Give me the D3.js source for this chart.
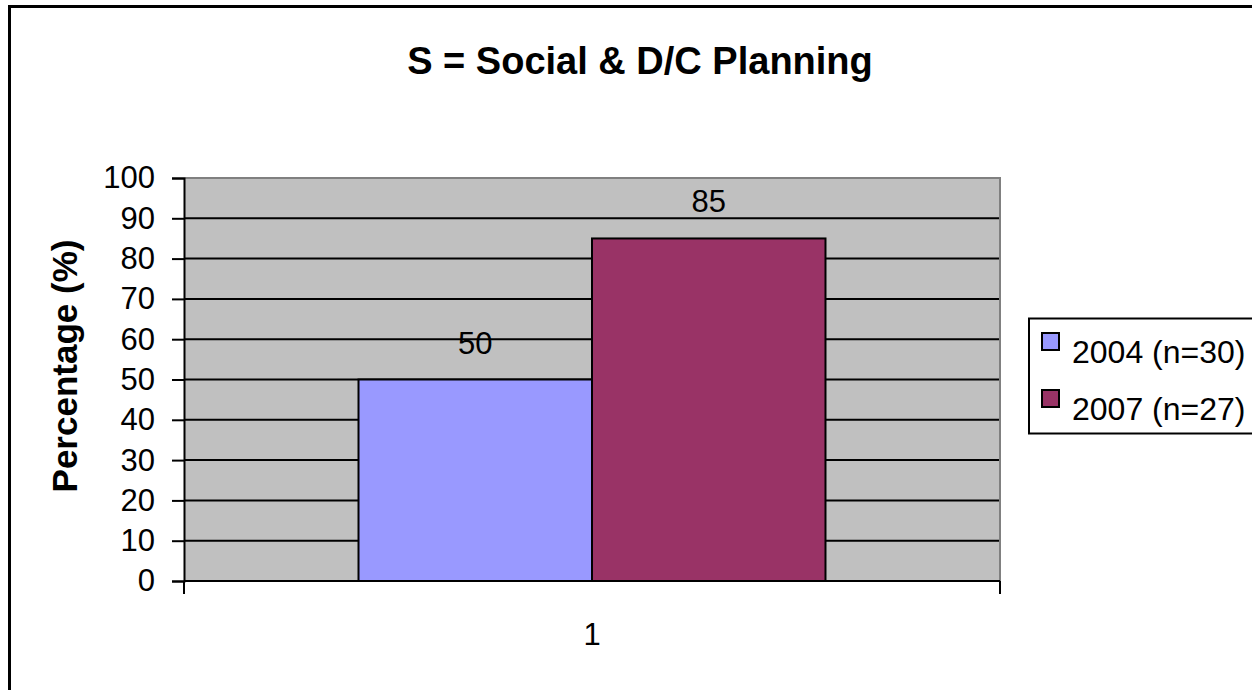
<!DOCTYPE html>
<html>
<head>
<meta charset="utf-8">
<script src="https://cdn.jsdelivr.net/npm/d3@7"></script>
<style>
  html, body { margin: 0; padding: 0; background: #fff; }
  svg { display: block; font-family: "Liberation Sans", Arial, sans-serif; }
</style>
</head>
<body>
<svg id="chart" width="1252" height="690"></svg>
<script>
// Chart data
const title = "S = Social & D/C Planning";
const categories = ["1"];
const seriesNames = ["2004 (n=30)", "2007 (n=27)"];
const seriesValues = [[50], [85]];
const seriesColors = ["#9999FF", "#993366"];
const yTicks = [0, 10, 20, 30, 40, 50, 60, 70, 80, 90, 100];
const yLabel = "Percentage (%)";

const svg = d3.select("#chart");

// Outer chart frame (runs past the right and bottom edges)
svg.append("rect")
  .attr("x", 9.5).attr("y", 6.5)
  .attr("width", 1300).attr("height", 800)
  .attr("fill", "#fff").attr("stroke", "#000").attr("stroke-width", 3);

const plot = { left: 184, right: 1000, top: 178, bottom: 581 };

const y = d3.scaleLinear().domain([0, 100]).range([plot.bottom, plot.top]);
const x0 = d3.scaleBand().domain(categories).range([plot.left, plot.right])
  .paddingInner(0).paddingOuter(0.3737);
const x1 = d3.scaleBand().domain(seriesNames).range([0, x0.bandwidth()]).padding(0);

// Plot background
svg.append("rect")
  .attr("x", plot.left).attr("y", plot.top)
  .attr("width", plot.right - plot.left).attr("height", plot.bottom - plot.top)
  .attr("fill", "#C0C0C0");

// Gridlines
svg.append("g").selectAll("line")
  .data(yTicks.filter(d => d > 0 && d < 100))
  .join("line")
  .attr("x1", plot.left).attr("x2", plot.right)
  .attr("y1", d => y(d)).attr("y2", d => y(d))
  .attr("stroke", "#000").attr("stroke-width", 2);

// Plot border top/right (gray)
svg.append("path")
  .attr("d", `M${plot.left},${plot.top}H${plot.right}V${plot.bottom}`)
  .attr("fill", "none").attr("stroke", "#808080").attr("stroke-width", 2);

// Bars
const groups = svg.append("g").selectAll("g")
  .data(categories)
  .join("g")
  .attr("transform", d => `translate(${x0(d)},0)`);

groups.selectAll("rect")
  .data((d, i) => seriesNames.map((s, j) => ({ s, j, v: seriesValues[j][i] })))
  .join("rect")
  .attr("x", d => x1(d.s))
  .attr("y", d => y(d.v))
  .attr("width", x1.bandwidth())
  .attr("height", d => y(0) - y(d.v))
  .attr("fill", d => seriesColors[d.j])
  .attr("stroke", "#000").attr("stroke-width", 2);

// Value labels
groups.selectAll("text")
  .data((d, i) => seriesNames.map((s, j) => ({ s, j, v: seriesValues[j][i] })))
  .join("text")
  .attr("x", d => x1(d.s) + x1.bandwidth() / 2)
  .attr("y", d => y(d.v) - 26)
  .attr("text-anchor", "middle")
  .attr("font-size", 31)
  .text(d => d.v);

// Y axis
const yAxis = d3.axisLeft(y).tickValues(yTicks).tickSize(12).tickPadding(17);
const ya = svg.append("g").attr("transform", `translate(${plot.left},0)`).call(yAxis);
ya.select(".domain").attr("stroke", "#000").attr("stroke-width", 2);
ya.selectAll(".tick line").attr("stroke", "#000").attr("stroke-width", 2);
ya.selectAll(".tick text").attr("font-size", 31).attr("fill", "#000")
  .attr("font-family", "'Liberation Sans', Arial, sans-serif");

// X axis with boundary ticks
const xa = svg.append("g").attr("transform", `translate(0,${plot.bottom})`);
xa.append("line").attr("x1", plot.left).attr("x2", plot.right)
  .attr("stroke", "#000").attr("stroke-width", 2);
xa.selectAll(".edge").data([plot.left, plot.right]).join("line")
  .attr("class", "edge")
  .attr("x1", d => d).attr("x2", d => d).attr("y1", 0).attr("y2", 13)
  .attr("stroke", "#000").attr("stroke-width", 2);
xa.selectAll(".cat").data(categories).join("text")
  .attr("class", "cat")
  .attr("x", d => x0(d) + x0.bandwidth() / 2)
  .attr("y", 64)
  .attr("text-anchor", "middle")
  .attr("font-size", 31)
  .text(d => d);

// Title
svg.append("text")
  .attr("x", 640).attr("y", 74)
  .attr("text-anchor", "middle")
  .attr("font-size", 38).attr("font-weight", "bold")
  .text(title);

// Y label
svg.append("text")
  .attr("transform", `translate(77,366) rotate(-90)`)
  .attr("text-anchor", "middle")
  .attr("font-size", 35).attr("font-weight", "bold")
  .text(yLabel);

// Legend
const legend = svg.append("g");
legend.append("rect")
  .attr("x", 1029).attr("y", 318.5).attr("width", 260).attr("height", 115)
  .attr("fill", "#fff").attr("stroke", "#000").attr("stroke-width", 2);
const items = legend.selectAll("g").data(seriesNames).join("g")
  .attr("transform", (d, i) => `translate(1042,${333 + i * 57})`);
items.append("rect")
  .attr("width", 17).attr("height", 17)
  .attr("fill", (d, i) => seriesColors[i])
  .attr("stroke", "#000").attr("stroke-width", 2);
items.append("text")
  .attr("x", 30).attr("y", 30)
  .attr("font-size", 32)
  .text(d => d);
</script>
</body>
</html>
